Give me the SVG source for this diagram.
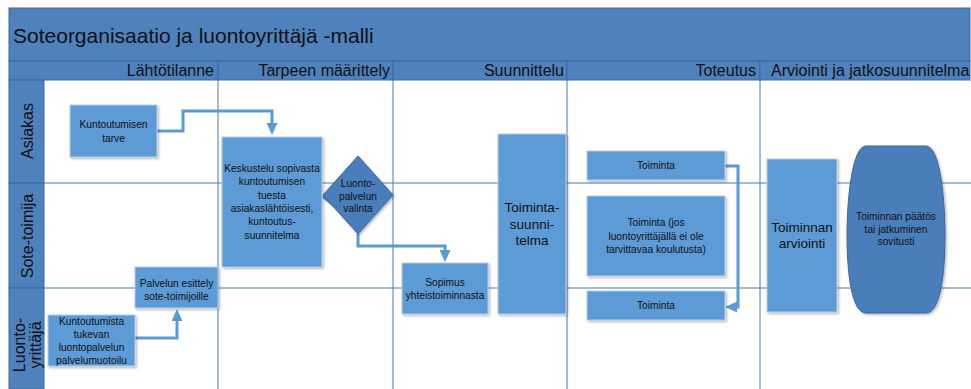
<svg xmlns="http://www.w3.org/2000/svg" width="971" height="389" viewBox="0 0 971 389">
<style>
.band{fill:#4f81bd;stroke:#3d6a9e;stroke-width:1}
.grid{stroke:#4a78b0;stroke-width:1;fill:none}
.node{fill:#5b9bd5;stroke:#b8cde6;stroke-width:1;filter:url(#sh)}
.dark{fill:#4a7ebb;stroke:#3a679c;stroke-width:1;filter:url(#sh)}
.t{font-family:"Liberation Sans",Arial,sans-serif;fill:#111}
.s{font-size:10.2px;text-anchor:middle}
.b{font-size:13.5px;text-anchor:middle}
.h{font-size:16px;text-anchor:end}
.lane{font-size:16px;text-anchor:middle}
.conn{fill:none;stroke:#5b9bd5;stroke-width:3;marker-end:url(#ah)}
</style>
<defs>
<filter id="sh" x="-10%" y="-10%" width="130%" height="130%">
<feDropShadow dx="1.5" dy="1.5" stdDeviation="1" flood-color="#000" flood-opacity="0.28"/>
</filter>
<marker id="ah" markerUnits="userSpaceOnUse" markerWidth="12" markerHeight="11" viewBox="0 0 12 11" refX="0" refY="5.5" orient="auto">
<path d="M0,0 L12,5.5 L0,11 Z" fill="#5b9bd5"/>
</marker>
<clipPath id="clipR"><rect x="0" y="0" width="970" height="389"/></clipPath>
</defs>
<rect x="0" y="0" width="971" height="389" fill="#ffffff"/>
<g id="title">
<rect class="band" x="9" y="8" width="961" height="53"/>
<text class="t" x="13" y="43" font-size="21">Soteorganisaatio ja luontoyrittäjä -malli</text>
</g>
<g id="phases">
<rect class="band" x="9" y="61" width="209" height="19"/>
<rect class="band" x="218" y="61" width="175" height="19"/>
<rect class="band" x="393" y="61" width="174" height="19"/>
<rect class="band" x="567" y="61" width="193" height="19"/>
<rect class="band" x="760" y="61" width="210" height="19"/>
<text class="t h" x="214" y="76">Lähtötilanne</text>
<text class="t h" x="390" y="76">Tarpeen määrittely</text>
<text class="t h" x="564" y="76">Suunnittelu</text>
<text class="t h" x="756" y="76">Toteutus</text>
<text class="t" x="771" y="76" font-size="16" clip-path="url(#clipR)">Arviointi ja jatkosuunnitelma</text>
</g>
<g id="lanes">
<rect class="band" x="9" y="80" width="35" height="103"/>
<rect class="band" x="9" y="183" width="35" height="105"/>
<rect class="band" x="9" y="288" width="35" height="101"/>
<text class="t lane" transform="translate(33,131) rotate(-90)">Asiakas</text>
<text class="t lane" transform="translate(33,236) rotate(-90)">Sote-toimija</text>
<text class="t lane" transform="translate(25,345) rotate(-90)">Luonto-</text>
<text class="t lane" transform="translate(41,345) rotate(-90)">yrittäjä</text>
</g>
<g id="grid">
<line class="grid" x1="44" y1="183" x2="971" y2="183"/>
<line class="grid" x1="44" y1="288" x2="971" y2="288"/>
<line class="grid" x1="218" y1="80" x2="218" y2="389"/>
<line class="grid" x1="393" y1="80" x2="393" y2="389"/>
<line class="grid" x1="567" y1="80" x2="567" y2="389"/>
<line class="grid" x1="760" y1="80" x2="760" y2="389"/>
</g>
<g id="connectors">
<path class="conn" d="M157,131 H183 V111 H272 V123"/>
<polygon points="321,197 337,184 337,210" fill="#5b9bd5"/>
<path class="conn" d="M358,234 V246 H445 V250"/>
<path class="conn" d="M725,166 H738 V307 H737"/>
<path class="conn" d="M135,338 H177 V321"/>
</g>
<g id="n-kuntoutumisen-tarve">
<rect class="node" x="70" y="105" width="87" height="52"/>
<text class="t s" x="113.5" y="128">Kuntoutumisen</text>
<text class="t s" x="113.5" y="142">tarve</text>
</g>
<g id="n-keskustelu">
<rect class="node" x="222" y="137" width="100" height="130"/>
<text class="t s" x="272" y="172">Keskustelu sopivasta</text>
<text class="t s" x="272" y="185.3">kuntoutumisen</text>
<text class="t s" x="272" y="198.6">tuesta</text>
<text class="t s" x="272" y="211.9">asiakaslähtöisesti,</text>
<text class="t s" x="272" y="225.2">kuntoutus-</text>
<text class="t s" x="272" y="238.5">suunnitelma</text>
</g>
<g id="n-valinta">
<polygon class="dark" points="358,156 393,195 358,234 323,195"/>
<text class="t s" x="358" y="187">Luonto-</text>
<text class="t s" x="358" y="199.5">palvelun</text>
<text class="t s" x="358" y="212">valinta</text>
</g>
<g id="n-sopimus">
<rect class="node" x="402" y="263" width="86" height="51"/>
<text class="t s" x="445" y="286">Sopimus</text>
<text class="t s" x="445" y="299">yhteistoiminnasta</text>
</g>
<g id="n-toimintasuunnitelma">
<rect class="node" x="498" y="134" width="68" height="180"/>
<text class="t b" x="532" y="212">Toiminta-</text>
<text class="t b" x="532" y="228.5">suunni-</text>
<text class="t b" x="532" y="245">telma</text>
</g>
<g id="n-toiminta-asiakas">
<rect class="node" x="587" y="151" width="138" height="29"/>
<text class="t s" x="656" y="169">Toiminta</text>
</g>
<g id="n-toiminta-sote">
<rect class="node" x="587" y="196" width="138" height="80"/>
<text class="t s" x="656" y="226">Toiminta (jos</text>
<text class="t s" x="656" y="239.5">luontoyrittäjällä ei ole</text>
<text class="t s" x="656" y="253">tarvittavaa koulutusta)</text>
</g>
<g id="n-toiminta-luonto">
<rect class="node" x="587" y="291" width="138" height="29"/>
<text class="t s" x="656" y="309">Toiminta</text>
</g>
<g id="n-arviointi">
<rect class="node" x="767" y="159" width="70" height="153"/>
<text class="t b" x="802" y="232">Toiminnan</text>
<text class="t b" x="802" y="248">arviointi</text>
</g>
<g id="n-paatos">
<path class="dark" d="M866,146 L926,146 C940,146 945,200 945,235 C945,275 940,313 926,313 L866,313 C852,313 847,275 847,235 C847,200 852,146 866,146 Z"/>
<text class="t s" x="896" y="220">Toiminnan päätös</text>
<text class="t s" x="896" y="232.5">tai jatkuminen</text>
<text class="t s" x="896" y="245">sovitusti</text>
</g>
<g id="n-palvelun-esittely">
<rect class="node" x="135" y="267" width="83" height="41"/>
<text class="t s" x="176.5" y="287">Palvelun esittely</text>
<text class="t s" x="176.5" y="299.5">sote-toimijoille</text>
</g>
<g id="n-palvelumuotoilu">
<rect class="node" x="48" y="315" width="87" height="51"/>
<text class="t s" x="91.5" y="325">Kuntoutumista</text>
<text class="t s" x="91.5" y="338">tukevan</text>
<text class="t s" x="91.5" y="351">luontopalvelun</text>
<text class="t s" x="91.5" y="364">palvelumuotoilu</text>
</g>
</svg>
